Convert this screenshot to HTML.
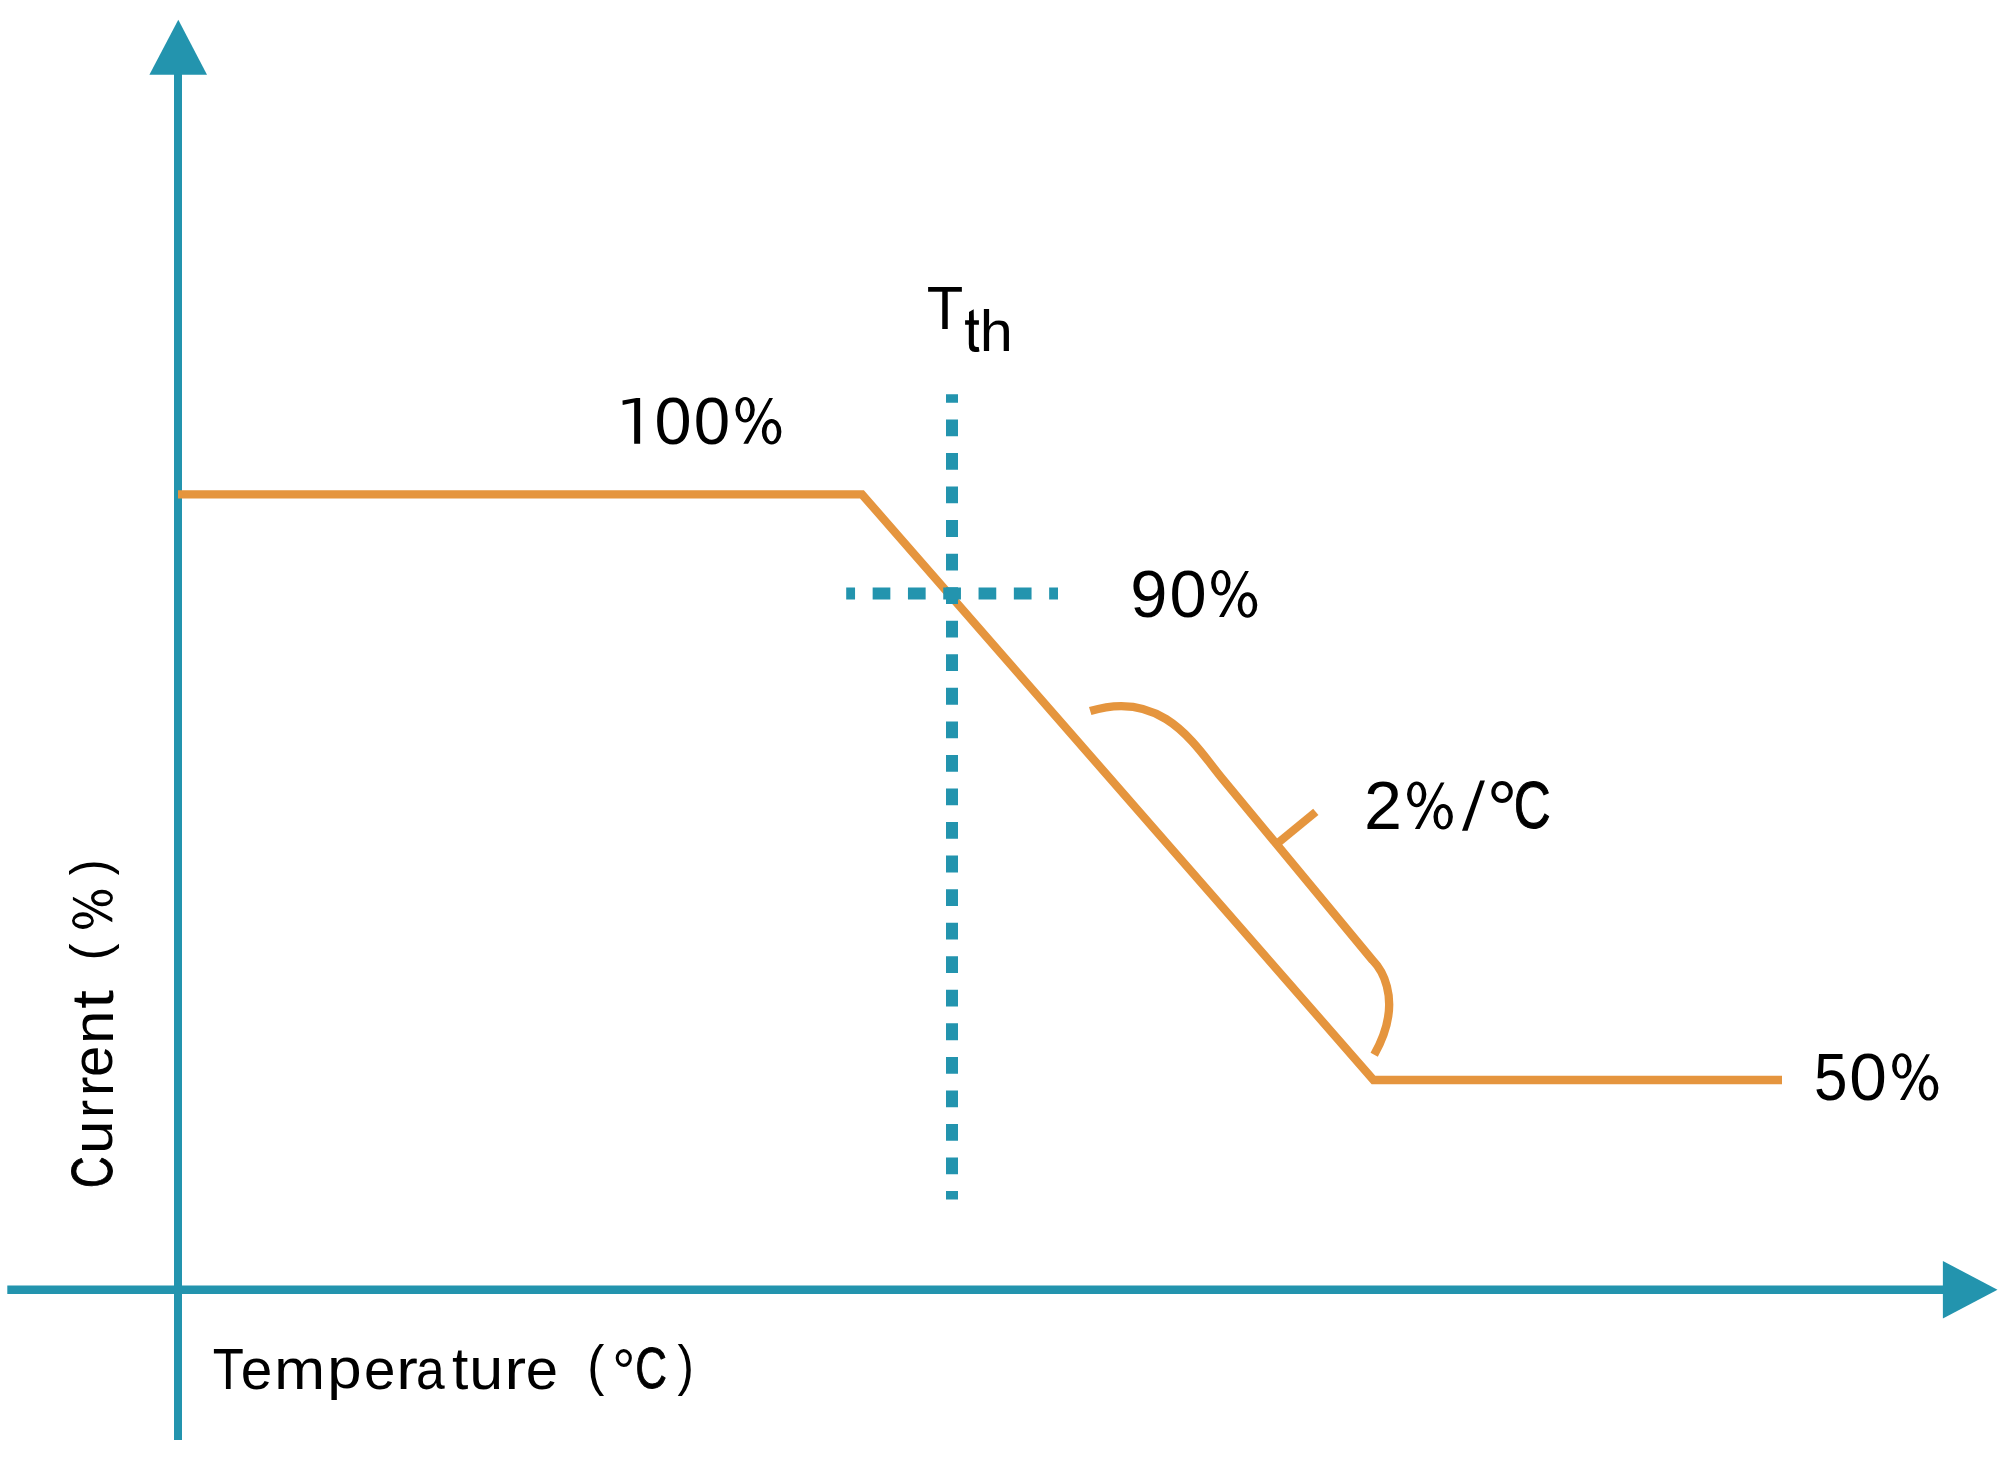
<!DOCTYPE html>
<html>
<head>
<meta charset="utf-8">
<title>Current vs Temperature derating</title>
<style>
html,body{margin:0;padding:0;background:#fff;overflow:hidden;}
svg{display:block;}
text{font-family:"Liberation Sans",sans-serif;font-size:100px;fill:#000;}
</style>
</head>
<body>
<svg width="2007" height="1467" viewBox="0 0 2007 1467">
<rect x="0" y="0" width="2007" height="1467" fill="#fff"/>
<g fill="#2394ae" stroke="none">
  <rect x="174" y="74" width="8" height="1366"/>
  <polygon points="178.3,19.8 149.4,74.7 207,74.7"/>
  <rect x="7.3" y="1285.5" width="1936" height="8.5"/>
  <polygon points="1942.9,1261 1997.5,1289.7 1942.9,1318.4"/>
</g>
<g stroke="#e5953e" fill="none" stroke-width="8.3" stroke-linejoin="miter">
  <polyline points="178,494.4 862,494.4 1373.5,1080 1782,1080"/>
  <path d="M1090.2,711 C1163.42,688.61 1196.16,746.97 1221.65,777.79 L1372.37,960 C1373.11,960.89 1408.5,993.45 1374.2,1054.8"/>
  <line x1="1276.5" y1="844.1" x2="1315.8" y2="811.9"/>
</g>
<g stroke="#2394ae" fill="none" stroke-width="12">
  <line x1="952" y1="394.3" x2="952" y2="1199.4" stroke-dasharray="16.8 16.75" stroke-dashoffset="8.4"/>
  <line x1="846.2" y1="593.4" x2="1058" y2="593.4" stroke-dasharray="17.7 17.6" stroke-dashoffset="8.85"/>
</g>

<g>
  <polygon points="640.14,443.80 634.17,443.80 634.17,402.40 622.70,404.90 622.50,400.40 636.40,398.05 640.14,398.05"/>
  <text transform="translate(654.49,443.84) scale(0.6673,0.6709)">0</text>
  <text transform="translate(693.84,443.84) scale(0.6548,0.6709)">0</text>
  <path fill-rule="evenodd" transform="translate(735.40,397.00) scale(46.100,47.500)" d="M0.0000,0.2674A0.2104,0.2674 0 1 0 0.4208,0.2674A0.2104,0.2674 0 1 0 0.0000,0.2674ZM0.0976,0.2674A0.1128,0.2021 0 1 0 0.3232,0.2674A0.1128,0.2021 0 1 0 0.0976,0.2674ZM0.5747,0.7326A0.2115,0.2674 0 1 0 0.9977,0.7326A0.2115,0.2674 0 1 0 0.5747,0.7326ZM0.6723,0.7389A0.1139,0.1937 0 1 0 0.9001,0.7389A0.1139,0.1937 0 1 0 0.6723,0.7389ZM0.7354,0.0221L0.8156,0.0221L0.2755,0.9853L0.1714,0.9853Z"/>
</g>
<g>
  <text transform="translate(1130.26,617.04) scale(0.6690,0.6751)">9</text>
  <text transform="translate(1169.59,617.04) scale(0.6673,0.6751)">0</text>
  <path fill-rule="evenodd" transform="translate(1211.10,569.90) scale(46.300,47.800)" d="M0.0000,0.2674A0.2104,0.2674 0 1 0 0.4208,0.2674A0.2104,0.2674 0 1 0 0.0000,0.2674ZM0.0976,0.2674A0.1128,0.2021 0 1 0 0.3232,0.2674A0.1128,0.2021 0 1 0 0.0976,0.2674ZM0.5747,0.7326A0.2115,0.2674 0 1 0 0.9977,0.7326A0.2115,0.2674 0 1 0 0.5747,0.7326ZM0.6723,0.7389A0.1139,0.1937 0 1 0 0.9001,0.7389A0.1139,0.1937 0 1 0 0.6723,0.7389ZM0.7354,0.0221L0.8156,0.0221L0.2755,0.9853L0.1714,0.9853Z"/>
</g>
<g>
  <text transform="translate(1814.09,1099.94) scale(0.6011,0.6707)">5</text>
  <text transform="translate(1849.16,1099.95) scale(0.6757,0.6681)">0</text>
  <path fill-rule="evenodd" transform="translate(1892.10,1053.30) scale(46.400,47.300)" d="M0.0000,0.2674A0.2104,0.2674 0 1 0 0.4208,0.2674A0.2104,0.2674 0 1 0 0.0000,0.2674ZM0.0976,0.2674A0.1128,0.2021 0 1 0 0.3232,0.2674A0.1128,0.2021 0 1 0 0.0976,0.2674ZM0.5747,0.7326A0.2115,0.2674 0 1 0 0.9977,0.7326A0.2115,0.2674 0 1 0 0.5747,0.7326ZM0.6723,0.7389A0.1139,0.1937 0 1 0 0.9001,0.7389A0.1139,0.1937 0 1 0 0.6723,0.7389ZM0.7354,0.0221L0.8156,0.0221L0.2755,0.9853L0.1714,0.9853Z"/>
</g>
<g>
  <text transform="translate(1364.07,829.10) scale(0.6827,0.6760)">2</text>
  <path fill-rule="evenodd" transform="translate(1407.00,781.50) scale(46.000,48.100)" d="M0.0000,0.2674A0.2104,0.2674 0 1 0 0.4208,0.2674A0.2104,0.2674 0 1 0 0.0000,0.2674ZM0.0976,0.2674A0.1128,0.2021 0 1 0 0.3232,0.2674A0.1128,0.2021 0 1 0 0.0976,0.2674ZM0.5747,0.7326A0.2115,0.2674 0 1 0 0.9977,0.7326A0.2115,0.2674 0 1 0 0.5747,0.7326ZM0.6723,0.7389A0.1139,0.1937 0 1 0 0.9001,0.7389A0.1139,0.1937 0 1 0 0.6723,0.7389ZM0.7354,0.0221L0.8156,0.0221L0.2755,0.9853L0.1714,0.9853Z"/>
  <polygon points="1480.16,780.60 1484.90,780.60 1467.55,830.80 1462.00,830.80"/>
  <text transform="translate(1486.73,836.04) scale(0.7671,0.7725)">°</text>
  <text transform="translate(1513.63,828.40) scale(0.5109,0.6639)" stroke="#000" stroke-width="1.64">C</text>
</g>
<g>
  <text transform="translate(926.86,328.80) scale(0.5978,0.6061)">T</text>
  <path d="M969,312 L973.7,309.2 L973.9,320.2 L978.9,320.2 L978.9,324.7 L973.9,324.7 L973.9,343.5 Q973.9,347 977,347 L978.7,347.1 L979.5,351.4 Q977.5,352 975,352 Q968.8,352 968.8,344 L968.8,324.7 L965.1,324.7 L965.1,320.2 L969,320.2 Z"/>
  <text transform="translate(979.77,350.90) scale(0.5950,0.5796)">h</text>
</g>
<g>
  <text transform="translate(212.66,1388.80) scale(0.5093,0.5785)">T</text>
  <text transform="translate(240.79,1388.83) scale(0.5669,0.5823)">e</text>
  <text transform="translate(274.15,1388.80) scale(0.6094,0.5817)">m</text>
  <text transform="translate(327.32,1388.45) scale(0.6182,0.5757)">p</text>
  <text transform="translate(363.90,1388.83) scale(0.5647,0.5823)">e</text>
  <text transform="translate(396.30,1388.80) scale(0.6480,0.5817)">r</text>
  <text transform="translate(415.91,1388.83) scale(0.5159,0.5823)">a</text>
  <text transform="translate(452.11,1388.94) scale(0.5874,0.5945)">t</text>
  <text transform="translate(469.14,1388.83) scale(0.6097,0.5835)">u</text>
  <text transform="translate(504.50,1388.80) scale(0.6480,0.5817)">r</text>
  <text transform="translate(525.74,1388.83) scale(0.5797,0.5823)">e</text>
  <text transform="translate(587.22,1383.89) scale(0.5129,0.5463)">(</text>
  <text transform="translate(612.16,1394.01) scale(0.5780,0.6503)">°</text>
  <text transform="translate(635.14,1388.36) scale(0.4384,0.5712)" stroke="#000" stroke-width="1.65">C</text>
  <text transform="translate(677.51,1383.89) scale(0.4903,0.5463)">)</text>
</g>
<g transform="translate(112.5,1200) rotate(-90)">
  <text transform="translate(12.04,-0.51) scale(0.4372,0.5661)" stroke="#000" stroke-width="1.61">C</text>
  <text transform="translate(45.90,-0.07) scale(0.6003,0.5817)">u</text>
  <text transform="translate(82.21,0.00) scale(0.5400,0.5761)">r</text>
  <text transform="translate(103.64,0.00) scale(0.5960,0.5761)">r</text>
  <text transform="translate(123.12,-0.06) scale(0.5605,0.5750)">e</text>
  <text transform="translate(156.01,0.00) scale(0.6003,0.5761)">n</text>
  <text transform="translate(191.28,0.04) scale(0.6735,0.5930)">t</text>
  <text transform="translate(239.62,-4.87) scale(0.5129,0.5442)">(</text>
  <path fill-rule="evenodd" transform="translate(271.10,-40.50) scale(39.300,40.900)" d="M0.0000,0.2674A0.2104,0.2674 0 1 0 0.4208,0.2674A0.2104,0.2674 0 1 0 0.0000,0.2674ZM0.0976,0.2674A0.1128,0.2021 0 1 0 0.3232,0.2674A0.1128,0.2021 0 1 0 0.0976,0.2674ZM0.5747,0.7326A0.2115,0.2674 0 1 0 0.9977,0.7326A0.2115,0.2674 0 1 0 0.5747,0.7326ZM0.6723,0.7389A0.1139,0.1937 0 1 0 0.9001,0.7389A0.1139,0.1937 0 1 0 0.6723,0.7389ZM0.7354,0.0221L0.8156,0.0221L0.2755,0.9853L0.1714,0.9853Z"/>
  <text transform="translate(324.82,-4.87) scale(0.4715,0.5442)">)</text>
</g>
</svg>
</body>
</html>
